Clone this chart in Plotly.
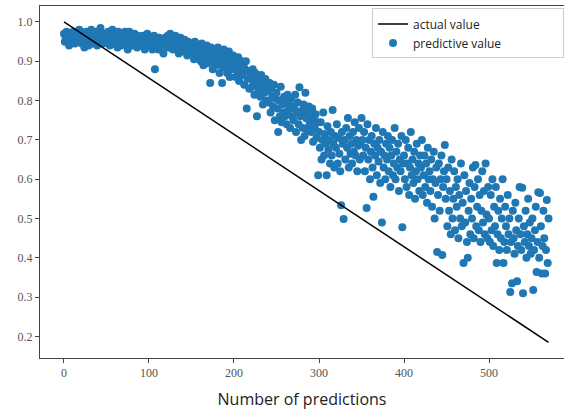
import plotly.graph_objects as go

# predicted values, one per prediction index 0..570
predicted = [
    .97, .95, .96, .975, .955, .965, .94, .97, .96, .95,
    .965, .975, .955, .945, .96, .97, .95, .965, .98, .955,
    .96, .945, .97, .955, .935, .965, .975, .95, .96, .94,
    .97, .955, .98, .96, .945, .965, .95, .975, .96, .94,
    .955, .97, .96, .985, .95, .965, .945, .97, .96, .955,
    .965, .95, .975, .96, .94, .97, .955, .98, .96, .945,
    .97, .955, .96, .935, .975, .95, .965, .94, .97, .955,
    .96, .945, .975, .95, .965, .93, .96, .975, .945, .955,
    .965, .94, .955, .97, .95, .96, .935, .965, .95, .945,
    .96, .95, .94, .965, .955, .93, .96, .945, .97, .95,
    .955, .94, .96, .945, .93, .95, .965, .88, .94, .955,
    .945, .93, .96, .95, .935, .955, .94, .92, .95, .96,
    .94, .955, .965, .935, .95, .97, .945, .96, .93, .955,
    .95, .965, .94, .935, .955, .92, .945, .96, .93, .95,
    .94, .925, .955, .935, .945, .915, .95, .93, .94, .925,
    .945, .92, .93, .905, .95, .925, .935, .91, .94, .92,
    .93, .90, .945, .915, .89, .935, .92, .905, .94, .895,
    .925, .91, .845, .935, .90, .88, .92, .905, .93, .89,
    .915, .935, .895, .87, .92, .905, .845, .885, .93, .90,
    .89, .915, .87, .90, .925, .86, .905, .88, .895, .915,
    .88, .90, .86, .895, .875, .91, .85, .885, .87, .90,
    .865, .89, .84, .88, .90, .78, .855, .875, .83, .87,
    .86, .835, .88, .85, .815, .87, .84, .76, .855, .825,
    .85, .81, .865, .83, .79, .845, .82, .855, .80, .835,
    .825, .795, .845, .77, .83, .81, .785, .84, .75, .805,
    .82, .78, .72, .80, .76, .835, .745, .79, .77, .81,
    .76, .80, .74, .815, .775, .79, .73, .805, .76, .785,
    .75, .78, .815, .72, .77, .795, .74, .834, .76, .70,
    .775, .73, .79, .71, .82, .755, .77, .725, .785, .74,
    .76, .72, .78, .695, .75, .73, .765, .705, .745, .61,
    .72, .68, .745, .65, .70, .77, .66, .715, .69, .61,
    .735, .675, .70, .64, .72, .66, .776, .69, .63, .71,
    .68, .74, .64, .705, .665, .62, .534, .72, .69, .499,
    .70, .65, .73, .68, .756, .63, .71, .665, .69, .64,
    .72, .67, .745, .66, .70, .62, .685, .73, .65, .69,
    .756, .70, .66, .72, .62, .68, .527, .74, .65, .70,
    .60, .67, .71, .63, .555, .69, .66, .73, .61, .68,
    .645, .70, .59, .67, .49, .72, .63, .66, .60, .69,
    .65, .71, .62, .68, .58, .66, .70, .61, .64, .73,
    .60, .67, .63, .69, .57, .65, .62, .71, .478, .64,
    .66, .60, .70, .58, .64, .68, .56, .63, .72, .61,
    .65, .59, .67, .55, .62, .69, .60, .64, .57, .66,
    .63, .70, .56, .61, .66, .58, .64, .54, .68, .60,
    .62, .57, .65, .53, .60, .67, .50, .59, .63, .415,
    .56, .64, .52, .60, .66, .407, .58, .62, .687, .55,
    .60, .48, .63, .52, .57, .46, .65, .50, .55, .62,
    .47, .58, .53, .60, .45, .56, .50, .64, .48, .54,
    .387, .61, .49, .57, .44, .40, .52, .59, .46, .55,
    .50, .63, .45, .58, .636, .48, .53, .60, .47, .56,
    .44, .52, .62, .49, .57, .46, .64, .51, .45, .58,
    .50, .44, .56, .47, .60, .43, .53, .48, .58, .387,
    .46, .52, .42, .55, .45, .50, .60, .387, .44, .53,
    .48, .42, .56, .46, .50, .313, .44, .335, .52, .45,
    .41, .54, .47, .34, .43, .50, .58, .46, .42, .578,
    .31, .48, .44, .52, .40, .46, .55, .43, .49, .41,
    .45, .50, .318, .42, .47, .53, .364, .44, .567, .40,
    .565, .48, .36, .43, .52, .45, .36, .42, .547, .387,
    .50,
]
pred_x = list(range(len(predicted)))

# actual value line (start and end of the straight line)
actual_x = [0, 570]
actual_y = [1.0, 0.185]

y_ticks = [0.2, 0.3, 0.4, 0.5, 0.6, 0.7, 0.8, 0.9, 1.0]
x_ticks = [0, 100, 200, 300, 400, 500]

fig = go.Figure()
fig.add_trace(go.Scatter(
    x=pred_x, y=predicted, mode="markers",
    name="predictive value" + "\u00a0" * 18,
    marker=dict(color="#1f77b4", size=8, line=dict(width=0)),
    legendrank=2,
))
fig.add_trace(go.Scatter(
    x=actual_x, y=actual_y, mode="lines", name="actual value",
    line=dict(color="black", width=1.5),
    legendrank=1,
))

tickfont = dict(family="Liberation Serif", size=12, color="#555")
fig.update_layout(
    width=564, height=412,
    margin=dict(l=40, r=0, t=6, b=54),
    paper_bgcolor="white", plot_bgcolor="white",
    showlegend=True,
    legend=dict(
        x=0.634, y=0.993, xanchor="left", yanchor="top",
        bgcolor="rgba(255,255,255,0.9)", bordercolor="#cccccc", borderwidth=1,
        font=dict(family="Open Sans", size=12, color="#222"),
        tracegroupgap=0, itemwidth=30,
    ),
    xaxis=dict(
        range=[-28.2, 588.2], tickvals=x_ticks,
        showline=True, linecolor="#444", linewidth=1, mirror=True,
        ticks="outside", ticklen=4, tickcolor="#444",
        showgrid=False, zeroline=False, tickfont=tickfont,
        title=dict(text="Number of predictions",
                   font=dict(family="Open Sans", size=16, color="#222"),
                   standoff=14),
    ),
    yaxis=dict(
        range=[0.145, 1.0407], tickvals=y_ticks,
        ticktext=[f"{v:.1f}" for v in y_ticks],
        showline=True, linecolor="#444", linewidth=1, mirror=False,
        ticks="outside", ticklen=4, tickcolor="#444",
        showgrid=False, zeroline=False, tickfont=tickfont,
    ),
)

fig.write_html("out.html")
